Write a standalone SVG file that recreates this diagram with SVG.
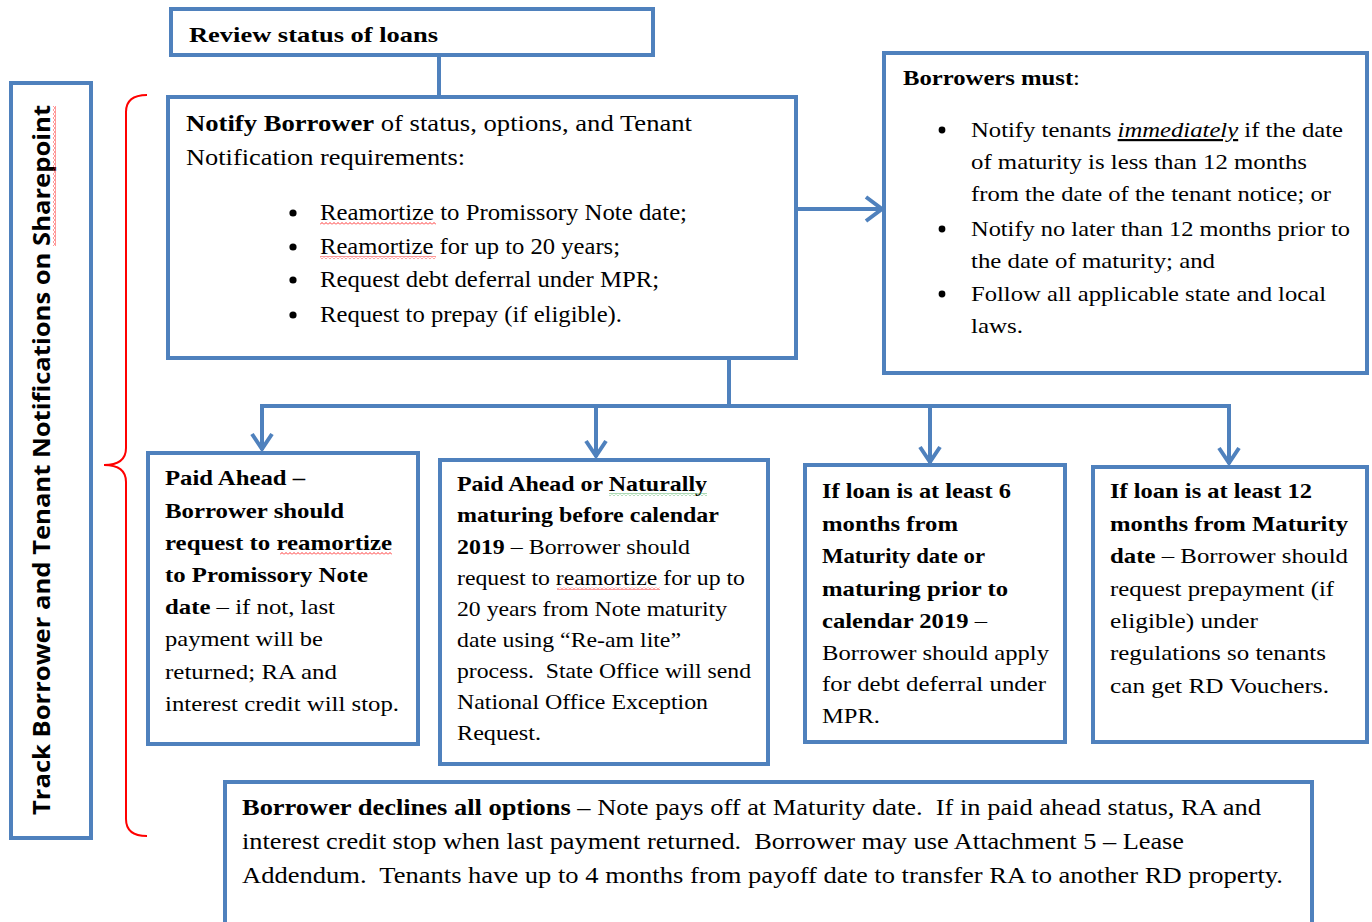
<svg xmlns="http://www.w3.org/2000/svg" width="1372" height="922" viewBox="0 0 1372 922">
<defs>
<style>
.box{fill:#fff;stroke:#4F81BD;stroke-width:4}
.conn{fill:none;stroke:#4F81BD;stroke-width:4}
.head{fill:none;stroke:#4F81BD;stroke-width:4;stroke-linejoin:miter}
.t{font-family:"Liberation Serif","Times New Roman",serif;fill:#000}
.s24{font-size:24px}
.s22{font-size:22px}
.s23{font-size:23px}
.b{font-weight:bold}
.pre{white-space:pre}
.dot{fill:#000}
</style>
<pattern id="wr" width="4" height="3" patternUnits="userSpaceOnUse"><path d="M0,2.5 L2,0.5 L4,2.5" fill="none" stroke="#FF0000" stroke-width="0.8"/></pattern>
<pattern id="wg" width="4" height="3" patternUnits="userSpaceOnUse"><path d="M0,2.5 L2,0.5 L4,2.5" fill="none" stroke="#2EA043" stroke-width="0.8"/></pattern>
<pattern id="wrv" width="3" height="4" patternUnits="userSpaceOnUse"><path d="M0.5,0 L2.5,2 L0.5,4" fill="none" stroke="#FF0000" stroke-width="0.8"/></pattern>
</defs>
<rect width="1372" height="922" fill="#fff"/>

<g id="connectors">
<line class="conn" x1="439" y1="55" x2="439" y2="97"/>
<line class="conn" x1="796" y1="209" x2="882" y2="209"/>
<polyline class="head" points="866,197 882,209 866,221"/>
<polyline class="conn" points="729,358 729,406"/>
<line class="conn" x1="260" y1="406" x2="1231" y2="406"/>
<line class="conn" x1="262" y1="406" x2="262" y2="450"/>
<polyline class="head" points="252,434 262,449 272,434"/>
<line class="conn" x1="596" y1="406" x2="596" y2="457"/>
<polyline class="head" points="586,441 596,456 606,441"/>
<line class="conn" x1="930" y1="406" x2="930" y2="463"/>
<polyline class="head" points="920,447 930,462 940,447"/>
<line class="conn" x1="1229" y1="406" x2="1229" y2="464"/>
<polyline class="head" points="1219,448 1229,463 1239,448"/>
<path d="M147,95 Q126,95 126,112 L126,448 Q126,465 104,465 Q126,465 126,482 L126,819 Q126,836 147,836" fill="none" stroke="#FF0000" stroke-width="2"/>
</g>

<g id="review">
<rect class="box" x="171" y="9" width="482" height="46"/>
<text class="t s22 b" x="189" y="42" textLength="249" lengthAdjust="spacingAndGlyphs">Review status of loans</text>
</g>

<g id="track">
<rect class="box" x="11" y="83" width="80" height="755"/>
<text transform="translate(50,815) rotate(-90)" font-family="'Open Sans','Liberation Sans',sans-serif" font-weight="bold" font-size="24" textLength="710" lengthAdjust="spacingAndGlyphs">Track Borrower and Tenant Notifications on Sharepoint</text>
<rect x="53" y="106" width="3" height="140" fill="url(#wrv)"/>
</g>

<g id="notify">
<rect class="box" x="168" y="97" width="628" height="261"/>
<text class="t s24" x="186" y="131" textLength="506" lengthAdjust="spacingAndGlyphs"><tspan class="b">Notify Borrower</tspan> of status, options, and Tenant</text>
<text class="t s24" x="186" y="165" textLength="279" lengthAdjust="spacingAndGlyphs">Notification requirements:</text>
<circle class="dot" cx="293" cy="213" r="3.6"/>
<circle class="dot" cx="293" cy="247" r="3.6"/>
<circle class="dot" cx="293" cy="280" r="3.6"/>
<circle class="dot" cx="293" cy="315" r="3.6"/>
<g class="t s24">
<text x="320" y="220" textLength="367" lengthAdjust="spacingAndGlyphs">Reamortize to Promissory Note date;</text>
<text x="320" y="254" textLength="300" lengthAdjust="spacingAndGlyphs">Reamortize for up to 20 years;</text>
<text x="320" y="287" textLength="339" lengthAdjust="spacingAndGlyphs">Request debt deferral under MPR;</text>
<text x="320" y="322" textLength="302" lengthAdjust="spacingAndGlyphs">Request to prepay (if eligible).</text>
</g>
<rect x="320" y="222" width="116" height="3" fill="url(#wr)"/>
<rect x="320" y="256" width="116" height="3" fill="url(#wr)"/>
</g>

<g id="borrowers">
<rect class="box" x="884" y="53" width="483" height="320"/>
<text class="t s22 b" x="903" y="85" textLength="177" lengthAdjust="spacingAndGlyphs">Borrowers must<tspan font-weight="normal">:</tspan></text>
<circle class="dot" cx="942" cy="130" r="3.4"/>
<circle class="dot" cx="942" cy="229" r="3.4"/>
<circle class="dot" cx="942" cy="294" r="3.4"/>
<g class="t s22">
<text x="971" y="137" textLength="372" lengthAdjust="spacingAndGlyphs">Notify tenants <tspan font-style="italic" text-decoration="underline">immediately</tspan> if the date</text>
<text x="971" y="169" textLength="336" lengthAdjust="spacingAndGlyphs">of maturity is less than 12 months</text>
<text x="971" y="201" textLength="360" lengthAdjust="spacingAndGlyphs">from the date of the tenant notice; or</text>
<text x="971" y="236" textLength="379" lengthAdjust="spacingAndGlyphs">Notify no later than 12 months prior to</text>
<text x="971" y="268" textLength="244" lengthAdjust="spacingAndGlyphs">the date of maturity; and</text>
<text x="971" y="301" textLength="355" lengthAdjust="spacingAndGlyphs">Follow all applicable state and local</text>
<text x="971" y="333" textLength="52" lengthAdjust="spacingAndGlyphs">laws.</text>
</g>
</g>

<g id="paid-ahead">
<rect class="box" x="148" y="453" width="270" height="291"/>
<g class="t s22">
<text class="b" x="165" y="485" textLength="140" lengthAdjust="spacingAndGlyphs">Paid Ahead –</text>
<text class="b" x="165" y="518" textLength="179" lengthAdjust="spacingAndGlyphs">Borrower should</text>
<text class="b" x="165" y="550" textLength="227" lengthAdjust="spacingAndGlyphs">request to reamortize</text>
<text class="b" x="165" y="582" textLength="203" lengthAdjust="spacingAndGlyphs">to Promissory Note</text>
<text x="165" y="614" textLength="170" lengthAdjust="spacingAndGlyphs"><tspan class="b">date</tspan> – if not, last</text>
<text x="165" y="646" textLength="158" lengthAdjust="spacingAndGlyphs">payment will be</text>
<text x="165" y="679" textLength="172" lengthAdjust="spacingAndGlyphs">returned; RA and</text>
<text x="165" y="711" textLength="234" lengthAdjust="spacingAndGlyphs">interest credit will stop.</text>
</g>
<rect x="280" y="552" width="112" height="3" fill="url(#wr)"/>
</g>

<g id="naturally">
<rect class="box" x="440" y="460" width="328" height="304"/>
<g class="t s22">
<text class="b" x="457" y="491" textLength="250" lengthAdjust="spacingAndGlyphs">Paid Ahead or Naturally</text>
<text class="b" x="457" y="522" textLength="262" lengthAdjust="spacingAndGlyphs">maturing before calendar</text>
<text x="457" y="554" textLength="233" lengthAdjust="spacingAndGlyphs"><tspan class="b">2019</tspan> – Borrower should</text>
<text x="457" y="585" textLength="288" lengthAdjust="spacingAndGlyphs">request to reamortize for up to</text>
<text x="457" y="616" textLength="270" lengthAdjust="spacingAndGlyphs">20 years from Note maturity</text>
<text x="457" y="647" textLength="224" lengthAdjust="spacingAndGlyphs">date using “Re-am lite”</text>
<text class="pre" x="457" y="678" textLength="294" lengthAdjust="spacingAndGlyphs">process.  State Office will send</text>
<text x="457" y="709" textLength="251" lengthAdjust="spacingAndGlyphs">National Office Exception</text>
<text x="457" y="740" textLength="84" lengthAdjust="spacingAndGlyphs">Request.</text>
</g>
<rect x="609" y="493" width="98" height="3" fill="url(#wg)"/>
<rect x="557" y="587" width="103" height="3" fill="url(#wr)"/>
</g>

<g id="six-months">
<rect class="box" x="805" y="465" width="260" height="277"/>
<g class="t s22">
<text class="b" x="822" y="498" textLength="189" lengthAdjust="spacingAndGlyphs">If loan is at least 6</text>
<text class="b" x="822" y="531" textLength="136" lengthAdjust="spacingAndGlyphs">months from</text>
<text class="b" x="822" y="563" textLength="163" lengthAdjust="spacingAndGlyphs">Maturity date or</text>
<text class="b" x="822" y="596" textLength="186" lengthAdjust="spacingAndGlyphs">maturing prior to</text>
<text x="822" y="628" textLength="165" lengthAdjust="spacingAndGlyphs"><tspan class="b">calendar 2019</tspan> –</text>
<text x="822" y="660" textLength="227" lengthAdjust="spacingAndGlyphs">Borrower should apply</text>
<text x="822" y="691" textLength="224" lengthAdjust="spacingAndGlyphs">for debt deferral under</text>
<text x="822" y="723" textLength="58" lengthAdjust="spacingAndGlyphs">MPR.</text>
</g>
</g>

<g id="twelve-months">
<rect class="box" x="1093" y="467" width="274" height="275"/>
<g class="t s22">
<text class="b" x="1110" y="498" textLength="202" lengthAdjust="spacingAndGlyphs">If loan is at least 12</text>
<text class="b" x="1110" y="531" textLength="238" lengthAdjust="spacingAndGlyphs">months from Maturity</text>
<text x="1110" y="563" textLength="238" lengthAdjust="spacingAndGlyphs"><tspan class="b">date</tspan> – Borrower should</text>
<text x="1110" y="596" textLength="224" lengthAdjust="spacingAndGlyphs">request prepayment (if</text>
<text x="1110" y="628" textLength="148" lengthAdjust="spacingAndGlyphs">eligible) under</text>
<text x="1110" y="660" textLength="216" lengthAdjust="spacingAndGlyphs">regulations so tenants</text>
<text x="1110" y="693" textLength="219" lengthAdjust="spacingAndGlyphs">can get RD Vouchers.</text>
</g>
</g>

<g id="declines">
<rect class="box" x="225" y="782" width="1087" height="150"/>
<g class="t s23">
<text class="pre" x="242" y="815" textLength="1019" lengthAdjust="spacingAndGlyphs"><tspan class="b">Borrower declines all options</tspan> – Note pays off at Maturity date.  If in paid ahead status, RA and</text>
<text class="pre" x="242" y="849" textLength="942" lengthAdjust="spacingAndGlyphs">interest credit stop when last payment returned.  Borrower may use Attachment 5 – Lease</text>
<text class="pre" x="242" y="883" textLength="1041" lengthAdjust="spacingAndGlyphs">Addendum.  Tenants have up to 4 months from payoff date to transfer RA to another RD property.</text>
</g>
</g>
</svg>
